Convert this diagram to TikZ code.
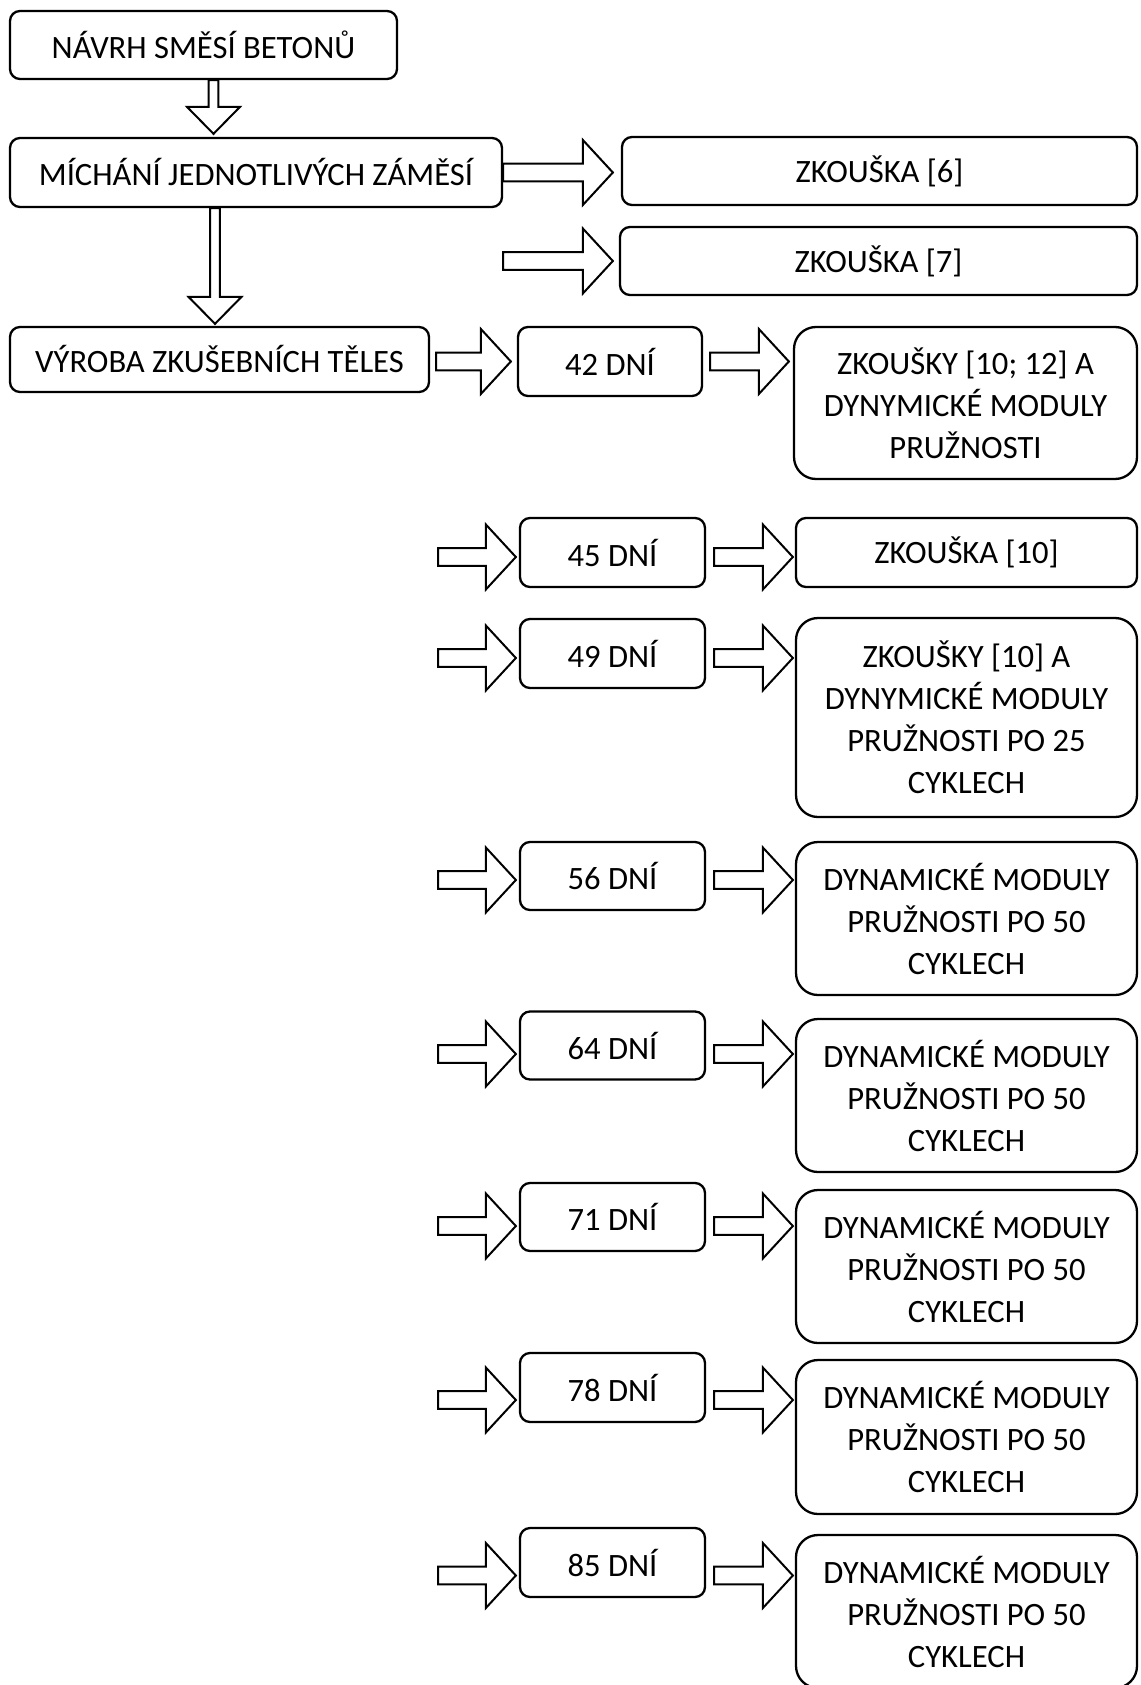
\documentclass[tikz,border=0pt]{standalone}
\usepackage{fontspec}
\setmainfont{Carlito}
\usetikzlibrary{calc}

\tikzset{
  box/.style={draw, line width=1.15pt, rounded corners=5pt, align=center, inner sep=0pt,
    font=\fontsize{16.3}{21}\selectfont},
  bigbox/.style={box, rounded corners=11pt},
  wh/.style 2 args={minimum width=#1*0.5pt, minimum height=#2*0.5pt},
  % hollow block arrow, left to right
  hblock/.style={draw, line width=1pt, fill=white,
    to path={let \p1=(\tikztostart), \p2=(\tikztotarget) in
      (\x1,\y1+4.4pt) -- (\x2-15pt,\y1+4.4pt) -- (\x2-15pt,\y1+16.25pt) -- (\x2,\y1)
      -- (\x2-15pt,\y1-16.25pt) -- (\x2-15pt,\y1-4.4pt) -- (\x1,\y1-4.4pt) -- cycle}},
  % hollow block arrow, top to bottom
  vblock/.style={draw, line width=1pt, fill=white,
    to path={let \p1=(\tikztostart), \p2=(\tikztotarget) in
      (\x1-2.4pt,\y1) -- (\x1-2.4pt,\y2+13.5pt) -- (\x1-13.25pt,\y2+13.5pt) -- (\x1,\y2)
      -- (\x1+13.25pt,\y2+13.5pt) -- (\x1+2.4pt,\y2+13.5pt) -- (\x1+2.4pt,\y1) -- cycle}},
}

\begin{document}
\begin{tikzpicture}[x=0.5pt, y=-0.5pt]
  \useasboundingbox (0,0) rectangle (1140,1685);

  % Preparation of the mixes
  \node[box, wh={387}{68}] (navrh) at (203.5,45) {NÁVRH SMĚSÍ BETONŮ};
  \node[box, wh={492}{69}] (michani) at (256,172.5) {MÍCHÁNÍ JEDNOTLIVÝCH ZÁMĚSÍ};
  \node[box, wh={419}{65}] (vyroba) at (219.5,359.5) {VÝROBA ZKUŠEBNÍCH TĚLES};

  \coordinate (axis1) at (213.5,0);
  \coordinate (axis2) at (215,0);
  \draw[vblock] (navrh.south -| axis1) to ([yshift=1.5pt]michani.north -| axis1);
  \draw[vblock] (michani.south -| axis2) to ([yshift=1pt]vyroba.north -| axis2);

  % Fresh concrete tests
  \node[box, wh={515}{68}] (zk6) at (879.5,171) {ZKOUŠKA [6]};
  \node[box, wh={517}{68}] (zk7) at (878.5,261) {ZKOUŠKA [7]};
  \draw[hblock] (michani.east) to ([xshift=-4pt]zk6.west);
  \draw[hblock] (michani.east |- zk7.west) to ([xshift=-3pt]zk7.west);

  % 42 days
  \node[box, wh={184}{69}] (d42) at (610,361.5) {42 DNÍ};
  \node[bigbox, wh={343}{152}] (r42) at (965.5,403) {ZKOUŠKY [10; 12] A\\DYNYMICKÉ MODULY\\PRUŽNOSTI};
  \draw[hblock] ([xshift=3pt]vyroba.east |- d42.west) to ([xshift=-3pt]d42.west);
  \draw[hblock] ([xshift=3.5pt]d42.east) to ([xshift=-2pt]d42.east -| r42.west);

  % 45 days
  \node[box, wh={185}{69}] (d45) at (612.5,552.5) {45 DNÍ};
  \node[box, wh={341}{69}] (r45) at (966.5,552.5) {ZKOUŠKA [10]};
  \coordinate (in45) at (438,557);
  \draw[hblock] (in45) to ([xshift=-1.5pt]in45 -| d45.west);
  \draw[hblock] ([xshift=4pt]in45 -| d45.east) to ([xshift=-1pt]in45 -| r45.west);

  % 49 days
  \node[box, wh={185}{69}] (d49) at (612.5,653.5) {49 DNÍ};
  \node[bigbox, wh={341}{199}] (r49) at (966.5,717.5) {ZKOUŠKY [10] A\\DYNYMICKÉ MODULY\\PRUŽNOSTI PO 25\\CYKLECH};
  \coordinate (in49) at (438,658);
  \draw[hblock] (in49) to ([xshift=-1.5pt]in49 -| d49.west);
  \draw[hblock] ([xshift=4pt]in49 -| d49.east) to ([xshift=-1pt]in49 -| r49.west);

  % 56 days
  \node[box, wh={185}{68}] (d56) at (612.5,876) {56 DNÍ};
  \node[bigbox, wh={341}{153}] (r56) at (966.5,918.5) {DYNAMICKÉ MODULY\\PRUŽNOSTI PO 50\\CYKLECH};
  \coordinate (in56) at (438,880);
  \draw[hblock] (in56) to ([xshift=-1.5pt]in56 -| d56.west);
  \draw[hblock] ([xshift=4pt]in56 -| d56.east) to ([xshift=-1pt]in56 -| r56.west);

  % 64 days
  \node[box, wh={185}{68}] (d64) at (612.5,1045.5) {64 DNÍ};
  \node[bigbox, wh={341}{153}] (r64) at (966.5,1095.5) {DYNAMICKÉ MODULY\\PRUŽNOSTI PO 50\\CYKLECH};
  \coordinate (in64) at (438,1054);
  \draw[hblock] (in64) to ([xshift=-1.5pt]in64 -| d64.west);
  \draw[hblock] ([xshift=4pt]in64 -| d64.east) to ([xshift=-1pt]in64 -| r64.west);

  % 71 days
  \node[box, wh={185}{68}] (d71) at (612.5,1217) {71 DNÍ};
  \node[bigbox, wh={341}{153}] (r71) at (966.5,1266.5) {DYNAMICKÉ MODULY\\PRUŽNOSTI PO 50\\CYKLECH};
  \coordinate (in71) at (438,1226);
  \draw[hblock] (in71) to ([xshift=-1.5pt]in71 -| d71.west);
  \draw[hblock] ([xshift=4pt]in71 -| d71.east) to ([xshift=-1pt]in71 -| r71.west);

  % 78 days
  \node[box, wh={185}{69}] (d78) at (612.5,1387.5) {78 DNÍ};
  \node[bigbox, wh={341}{154}] (r78) at (966.5,1437) {DYNAMICKÉ MODULY\\PRUŽNOSTI PO 50\\CYKLECH};
  \coordinate (in78) at (438,1400);
  \draw[hblock] (in78) to ([xshift=-1.5pt]in78 -| d78.west);
  \draw[hblock] ([xshift=4pt]in78 -| d78.east) to ([xshift=-1pt]in78 -| r78.west);

  % 85 days
  \node[box, wh={185}{69}] (d85) at (612.5,1562.5) {85 DNÍ};
  \node[bigbox, wh={341}{153}] (r85) at (966.5,1611.5) {DYNAMICKÉ MODULY\\PRUŽNOSTI PO 50\\CYKLECH};
  \coordinate (in85) at (438,1575.5);
  \draw[hblock] (in85) to ([xshift=-1.5pt]in85 -| d85.west);
  \draw[hblock] ([xshift=4pt]in85 -| d85.east) to ([xshift=-1pt]in85 -| r85.west);
\end{tikzpicture}
\end{document}
